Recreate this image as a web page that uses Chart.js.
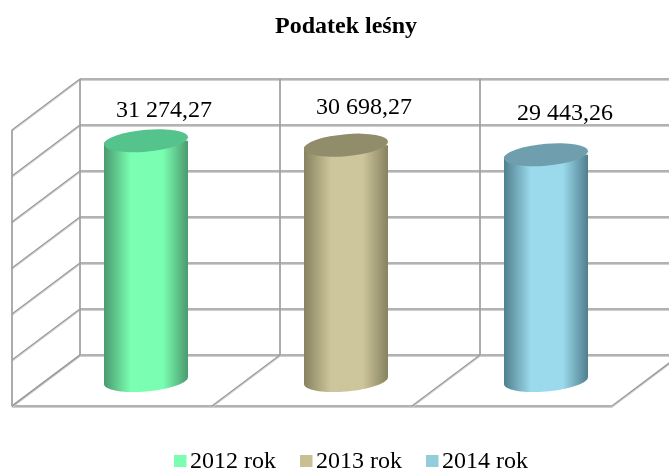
<!DOCTYPE html>
<html>
<head>
<meta charset="utf-8">
<title>Podatek leśny</title>
<style>
  html, body { margin: 0; padding: 0; background: #fff; }
  #wrap { width: 669px; height: 470px; }
</style>
</head>
<body>
<div id="wrap"><canvas id="taxChart"></canvas></div>
<script src="https://cdn.jsdelivr.net/npm/chart.js@4/dist/chart.umd.min.js"></script>
<script>
const years = ["2012 rok", "2013 rok", "2014 rok"];
const taxValues = [31274.27, 30698.27, 29443.26];
const chartTitle = "Podatek leśny";

const baseColors = ["#7affb2", "#cdc59b", "#9bdaec"];
const edgeColors = ["#4a9a6e", "#87825f", "#4f7f8e"];
const capColors = ["#55c48c", "#918d6b", "#6f9fae"];
const legendColors = ["#7affb2", "#c8bf93", "#92cddc"];

const FONT = "'Liberation Serif', 'Times New Roman', serif";
const GRID = "#999999";
const GRID_LIGHT = "#cfcfcf";

// half of the 3D depth, the scales sit on the middle plane of the box
const DEPTH_X = 34;
const DEPTH_Y = 25.5;
const CAP_RY = 11;
const CAP_TILT = 3.5;

const formatValue = (v) =>
  v.toFixed(2).replace(".", ",").replace(/(\d+)(\d{3}),/, "$1 $2,");

const cylinderGradient = (ctx, x, width, i) => {
  const g = ctx.createLinearGradient(x - width / 2, 0, x + width / 2, 0);
  g.addColorStop(0, edgeColors[i]);
  g.addColorStop(0.32, baseColors[i]);
  g.addColorStop(0.7, baseColors[i]);
  g.addColorStop(1, edgeColors[i]);
  return g;
};

const line = (ctx, x1, y1, x2, y2) => {
  ctx.strokeStyle = GRID_LIGHT;
  ctx.lineWidth = 1;
  ctx.beginPath();
  ctx.moveTo(x1, y1 + 1.5);
  ctx.lineTo(x2, y2 + 1.5);
  ctx.stroke();
  ctx.strokeStyle = GRID;
  ctx.lineWidth = 1.5;
  ctx.beginPath();
  ctx.moveTo(x1, y1);
  ctx.lineTo(x2, y2);
  ctx.stroke();
};

// box walls and floor, built from the scales
const boxPlugin = {
  id: "box",
  beforeDatasetsDraw(chart) {
    const { ctx, chartArea, scales } = chart;
    const { left, right } = chartArea;
    const yScale = scales.y;
    const bottom = yScale.getPixelForValue(0);
    const top = yScale.getPixelForValue(yScale.max);
    const step = (right - left) / years.length;
    ctx.save();
    yScale.ticks.forEach((tick) => {
      const p = yScale.getPixelForValue(tick.value);
      line(ctx, left - DEPTH_X, p + DEPTH_Y, left + DEPTH_X, p - DEPTH_Y);
      line(ctx, left + DEPTH_X, p - DEPTH_Y, chart.width, p - DEPTH_Y);
    });
    line(ctx, left - DEPTH_X, top + DEPTH_Y, left - DEPTH_X, bottom + DEPTH_Y);
    line(ctx, left - DEPTH_X, bottom + DEPTH_Y, right - DEPTH_X, bottom + DEPTH_Y);
    for (let i = 0; i <= years.length; i++) {
      const x = left + step * i;
      if (i < years.length) {
        line(ctx, x + DEPTH_X, top - DEPTH_Y, x + DEPTH_X, bottom - DEPTH_Y);
      }
      line(ctx, x - DEPTH_X, bottom + DEPTH_Y, x + DEPTH_X, bottom - DEPTH_Y);
    }
    ctx.restore();
  },
};

// keeps the bar rectangles inside the tilted cylinder outline, adds both caps
const cylinderPlugin = {
  id: "cylinder",
  beforeDatasetsDraw(chart) {
    const { ctx } = chart;
    const bars = chart.getDatasetMeta(0).data;
    ctx.save();
    ctx.beginPath();
    bars.forEach((bar) => {
      const rx = bar.width / 2;
      const outline = (cy, from, to) => {
        for (let n = 0; n <= 40; n++) {
          const t = from + ((to - from) * n) / 40;
          const px = bar.x + rx * Math.cos(t);
          const py = cy - CAP_TILT * Math.cos(t) + CAP_RY * Math.sin(t);
          if (n === 0 && from === Math.PI) ctx.moveTo(px, py);
          else ctx.lineTo(px, py);
        }
      };
      outline(bar.y, Math.PI, Math.PI * 2);
      outline(bar.base, 0, Math.PI);
      ctx.closePath();
    });
    ctx.clip();
    bars.forEach((bar, i) => {
      ctx.fillStyle = cylinderGradient(ctx, bar.x, bar.width, i);
      ctx.fillRect(bar.x - bar.width / 2, bar.base - 1, bar.width, CAP_RY + CAP_TILT + 2);
    });
  },
  afterDatasetsDraw(chart) {
    const { ctx } = chart;
    ctx.restore();
    chart.getDatasetMeta(0).data.forEach((bar, i) => {
      ctx.save();
      ctx.transform(1, -CAP_TILT / (bar.width / 2), 0, 1, bar.x, bar.y);
      ctx.beginPath();
      ctx.ellipse(0, 0, bar.width / 2, CAP_RY, 0, 0, Math.PI * 2);
      ctx.fillStyle = capColors[i];
      ctx.fill();
      ctx.restore();
    });
  },
};

const labelsPlugin = {
  id: "valueLabels",
  afterDraw(chart) {
    const { ctx } = chart;
    const shifts = [[18, -30], [18, -37], [19, -41]];
    ctx.save();
    ctx.font = "24px " + FONT;
    ctx.fillStyle = "#000";
    ctx.textAlign = "center";
    ctx.textBaseline = "middle";
    chart.getDatasetMeta(0).data.forEach((bar, i) => {
      ctx.fillText(formatValue(taxValues[i]), bar.x + shifts[i][0], bar.y + shifts[i][1]);
    });
    ctx.restore();
  },
};

// legend with the tight box-to-text gap of the original
const legendPlugin = {
  id: "tightLegend",
  afterDraw(chart) {
    const { ctx } = chart;
    const boxX = [174, 300, 426];
    ctx.save();
    ctx.font = "24px " + FONT;
    ctx.textBaseline = "alphabetic";
    years.forEach((year, i) => {
      ctx.fillStyle = legendColors[i];
      ctx.fillRect(boxX[i], 455, 12.5, 12);
      ctx.fillStyle = "#000";
      ctx.fillText(year, boxX[i] + 16, 468);
    });
    ctx.restore();
  },
};

new Chart("taxChart", {
  type: "bar",
  data: {
    labels: years,
    datasets: [
      {
        data: taxValues,
        barPercentage: 0.42,
        categoryPercentage: 1,
        backgroundColor: (c) => {
          const { chart, dataIndex } = c;
          if (dataIndex === undefined || !chart.chartArea) return baseColors[0];
          const xScale = chart.scales.x;
          const width = ((chart.chartArea.right - chart.chartArea.left) / years.length) * 0.42;
          return cylinderGradient(chart.ctx, xScale.getPixelForValue(dataIndex), width, dataIndex);
        },
      },
    ],
  },
  options: {
    responsive: true,
    maintainAspectRatio: false,
    animation: false,
    layout: { padding: { left: 46, right: 23, top: 0, bottom: 89.5 } },
    scales: {
      x: { display: false },
      y: { display: false, min: 0, max: 36000, ticks: { stepSize: 6000 } },
    },
    plugins: {
      legend: { display: false },
      tooltip: { enabled: false },
      title: {
        display: true,
        text: chartTitle,
        fullSize: false,
        color: "#000",
        font: { family: FONT, size: 24, weight: "bold", lineHeight: 1.2 },
        padding: { top: 12, bottom: 63.7 },
      },
    },
  },
  plugins: [boxPlugin, cylinderPlugin, labelsPlugin, legendPlugin],
});
</script>
</body>
</html>
